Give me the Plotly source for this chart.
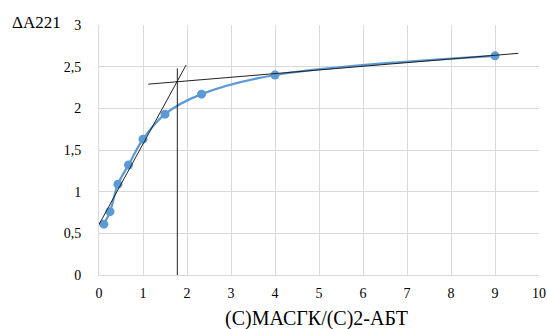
import plotly.graph_objects as go

# data points
x_vals = [0.11, 0.25, 0.43, 0.67, 1.0, 1.5, 2.33, 4.0, 9.0]
y_vals = [0.61, 0.76, 1.09, 1.32, 1.63, 1.93, 2.17, 2.40, 2.63]

# tangent / construction lines
tan1_x = [-0.12, 1.98]
tan1_y = [0.49, 2.52]
tan2_x = [1.12, 9.53]
tan2_y = [2.29, 2.66]
vert_x = [1.78, 1.78]
vert_y = [-0.17, 2.48]

x_ticks = [0, 1, 2, 3, 4, 5, 6, 7, 8, 9, 10]
y_ticks = [0, 0.5, 1, 1.5, 2, 2.5, 3]

x_title = "(С)МАСГК/(С)2-АБТ"
y_title = "ΔA221"

FONT = "Liberation Serif"
BLUE = "#5B9BD5"
GRID = "#D9D9D9"

fig = go.Figure()
fig.add_trace(go.Scatter(
    x=x_vals, y=y_vals, mode="lines+markers",
    line=dict(color=BLUE, width=2.25, shape="spline", smoothing=1.0),
    marker=dict(color=BLUE, size=9),
    cliponaxis=False, showlegend=False))
for xs, ys in [(tan1_x, tan1_y), (tan2_x, tan2_y), (vert_x, vert_y)]:
    fig.add_trace(go.Scatter(
        x=xs, y=ys, mode="lines",
        line=dict(color="#222222", width=1),
        cliponaxis=False, showlegend=False))

fig.update_layout(
    width=547, height=329,
    margin=dict(l=99, r=8, t=25, b=54, autoexpand=False),
    paper_bgcolor="white", plot_bgcolor="white",
    separators=", ",
    font=dict(family=FONT, size=14, color="#000000"),
    xaxis=dict(range=[0, 10], tickvals=x_ticks, showgrid=True, gridcolor=GRID,
               gridwidth=1, zeroline=False, showline=True, linecolor=GRID,
               linewidth=1, ticks="outside", ticklen=5, tickcolor="rgba(0,0,0,0)",
               tickfont=dict(family=FONT, size=14, color="#000000"), automargin=False),
    yaxis=dict(range=[0, 3], tickvals=y_ticks, showgrid=True, gridcolor=GRID,
               gridwidth=1, zeroline=False, showline=True, linecolor=GRID,
               linewidth=1, ticks="outside", ticklen=14, tickcolor="rgba(0,0,0,0)",
               tickfont=dict(family=FONT, size=14, color="#000000"), automargin=False),
    annotations=[
        dict(text=y_title, xref="paper", yref="paper",
             x=-0.203, y=1.01, xanchor="left", yanchor="middle",
             showarrow=False, font=dict(family=FONT, size=17, color="#000000")),
        dict(text=x_title, xref="paper", yref="paper",
             x=0.494, y=-0.172, xanchor="center", yanchor="middle",
             showarrow=False, font=dict(family=FONT, size=20, color="#000000")),
    ],
)

fig.write_html("out.html", config={"displayModeBar": False},
               post_script="document.body.style.margin='0';document.body.style.overflow='hidden';")
